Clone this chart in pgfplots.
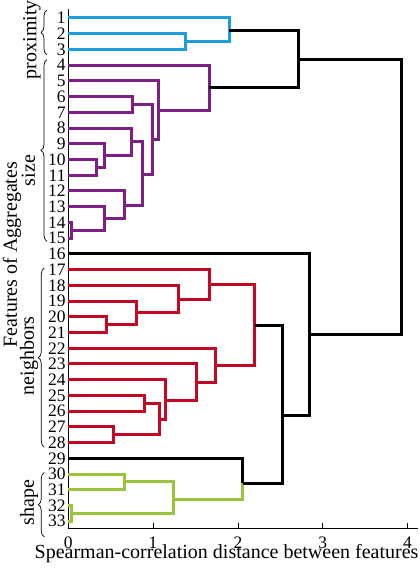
\documentclass[border=0pt]{standalone}
\usepackage{fontspec}
\setmainfont{Liberation Serif}
\usepackage{pgfplots}
\pgfplotsset{compat=1.18}
\usetikzlibrary{decorations.pathreplacing,calc}
\definecolor{cblue}{RGB}{27,160,220}
\definecolor{cpurp}{RGB}{126,30,135}
\definecolor{cred}{RGB}{196,8,36}
\definecolor{cgreen}{RGB}{155,196,60}
\newcommand{\lbl}{\fontsize{20bp}{24bp}\selectfont}
\newcommand{\tkl}{\fontsize{17.5bp}{21bp}\selectfont}
\begin{document}
\begin{tikzpicture}
\begin{axis}[
  name=ax,
  scale only axis, width=349.4bp, height=519bp,
  xmin=0, xmax=4.12, ymin=0.45, ymax=33.45, y dir=reverse,
  axis x line*=bottom, axis y line*=left,
  axis line style={line width=0.8bp, black},
  xtick={0,1,2,3,4}, ytick={1,2,...,33},
  tick align=inside, major tick length=5bp,
  x tick style={line width=0.8bp, black},
  y tick style={draw=none},
  /pgf/number format/assume math mode=true,
  tick label style={font=\tkl},
  yticklabel style={inner sep=0pt, xshift=-2.5bp},
  xticklabel style={inner sep=0pt, yshift=-8.4bp},
  clip=false,
  every axis plot/.append style={line width=3bp, line join=miter, line cap=butt},
]
% proximity (blue)
\addplot[cblue] coordinates {(0,2) (1.385,2) (1.385,3) (0,3)};
\addplot[cblue] coordinates {(0,1) (1.90,1) (1.90,2.5) (1.385,2.5)};
% size (purple)
\addplot[cpurp] coordinates {(0,4) (1.663,4) (1.663,6.87) (1.063,6.87)};
\addplot[cpurp] coordinates {(0,5) (1.063,5) (1.063,8.74) (0.99,8.74)};
\addplot[cpurp] coordinates {(0.76,6.5) (0.99,6.5) (0.99,10.95) (0.877,10.95)};
\addplot[cpurp] coordinates {(0,6) (0.76,6) (0.76,7) (0,7)};
\addplot[cpurp] coordinates {(0.747,8.85) (0.877,8.85) (0.877,12.92) (0.66,12.92)};
\addplot[cpurp] coordinates {(0,8) (0.747,8) (0.747,9.75) (0.425,9.75)};
\addplot[cpurp] coordinates {(0,9) (0.425,9) (0.425,10.5) (0.335,10.5)};
\addplot[cpurp] coordinates {(0,10) (0.335,10) (0.335,11) (0,11)};
\addplot[cpurp] coordinates {(0,12) (0.66,12) (0.66,13.75) (0.425,13.75)};
\addplot[cpurp] coordinates {(0,13) (0.425,13) (0.425,14.5) (0.041,14.5)};
\addplot[cpurp] coordinates {(0,14) (0.041,14) (0.041,15) (0,15)};
% neighbors (red)
\addplot[cred] coordinates {(0,17) (1.67,17) (1.67,18.9) (1.30,18.9)};
\addplot[cred] coordinates {(0,18) (1.30,18) (1.30,19.75) (0.80,19.75)};
\addplot[cred] coordinates {(0,19) (0.80,19) (0.80,20.5) (0.45,20.5)};
\addplot[cred] coordinates {(0,20) (0.45,20) (0.45,21) (0,21)};
\addplot[cred] coordinates {(1.67,17.95) (2.196,17.95) (2.196,23.1) (1.73,23.1)};
\addplot[cred] coordinates {(0,22) (1.73,22) (1.73,24.2) (1.506,24.2)};
\addplot[cred] coordinates {(0,23) (1.506,23) (1.506,25.3) (1.152,25.3)};
\addplot[cred] coordinates {(0,24) (1.152,24) (1.152,26.5) (1.08,26.5)};
\addplot[cred] coordinates {(0.893,25.5) (1.08,25.5) (1.08,27.5) (0.53,27.5)};
\addplot[cred] coordinates {(0,25) (0.893,25) (0.893,26) (0,26)};
\addplot[cred] coordinates {(0,27) (0.53,27) (0.53,28) (0,28)};
% shape (green)
\addplot[cgreen] coordinates {(0,30) (0.66,30) (0.66,31) (0,31)};
\addplot[cgreen] coordinates {(0.66,30.5) (1.24,30.5) (1.24,32.5) (0.041,32.5)};
\addplot[cgreen] coordinates {(0,32) (0.041,32) (0.041,33) (0,33)};
\addplot[cgreen] coordinates {(1.24,31.6) (2.057,31.6) (2.057,30.58)};
% upper links (black)
\addplot[black] coordinates {(0,29) (2.057,29) (2.057,30.58)};
\addplot[black] coordinates {(2.196,20.55) (2.53,20.55) (2.53,30.58) (2.057,30.58)};
\addplot[black] coordinates {(0,16) (2.85,16) (2.85,26.28) (2.53,26.28)};
\addplot[black] coordinates {(1.90,1.78) (2.71,1.78) (2.71,5.45) (1.663,5.45)};
\addplot[black] coordinates {(2.71,3.62) (3.93,3.62) (3.93,21.15) (2.85,21.15)};
% group braces and labels
\draw[decorate, decoration={brace, amplitude=6bp}, line width=0.7bp]
  ([xshift=-21.3bp]axis cs:0,3.35) -- ([xshift=-21.3bp]axis cs:0,0.5);
\draw[decorate, decoration={brace, amplitude=6bp}, line width=0.7bp]
  ([xshift=-21.3bp]axis cs:0,15.2) -- ([xshift=-21.3bp]axis cs:0,3.65);
\draw[decorate, decoration={brace, amplitude=6bp}, line width=0.7bp]
  ([xshift=-24bp]axis cs:0,28.3) -- ([xshift=-24bp]axis cs:0,16.9);
\draw[decorate, decoration={brace, amplitude=6bp}, line width=0.7bp]
  ([xshift=-24bp]axis cs:0,34.0) -- ([xshift=-24bp]axis cs:0,29.9);
\node[rotate=90, anchor=base, font=\lbl, inner sep=0pt] at ([xshift=-32bp]axis cs:0,2.38) {proximity};
\node[rotate=90, anchor=base, font=\lbl, inner sep=0pt] at ([xshift=-33.3bp]axis cs:0,10.71) {size};
\node[rotate=90, anchor=base, font=\lbl, inner sep=0pt] at ([xshift=-34.3bp]axis cs:0,22.48) {neighbors};
\node[rotate=90, anchor=base, font=\lbl, inner sep=0pt] at ([xshift=-34.3bp]axis cs:0,31.83) {shape};
\node[rotate=90, anchor=base, font=\lbl, inner sep=0pt] at ([xshift=-51.3bp]axis cs:0,16.05) {Features of Aggregates};
\node[anchor=base, font=\lbl, inner sep=0pt] at ([yshift=-30bp]axis cs:1.866,33.45) {Spearman-correlation distance between features};
\end{axis}
\pgfresetboundingbox
\path[use as bounding box] ([shift={(-68.3bp,-41.7bp)}]ax.south west) rectangle ([shift={(2.3bp,9.3bp)}]ax.north east);
\end{tikzpicture}
\end{document}
